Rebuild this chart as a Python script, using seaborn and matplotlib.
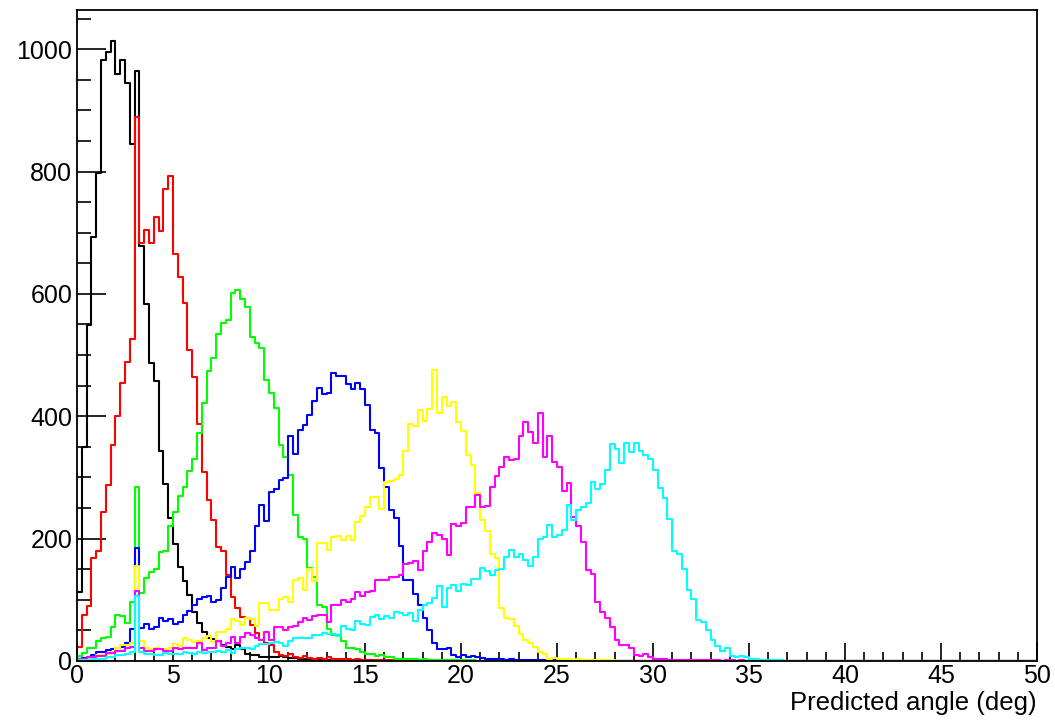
import matplotlib

matplotlib.use("Agg")

import matplotlib.pyplot as plt
import numpy as np
import pandas as pd
import seaborn as sns
from matplotlib.ticker import MultipleLocator


N_BINS = 200
X_RANGE = (0.0, 50.0)
Y_MAX = 1064

# bin contents (0.25 deg bins starting at 0), trailing bins are empty
black_counts = [
    113, 350, 549, 693, 797, 982, 995, 1013, 960, 983, 945, 845, 964, 678, 584, 487,
    457, 343, 290, 233, 192, 154, 131, 108, 80, 62, 47, 38, 36, 32, 26, 23,
    20, 26, 20, 12, 10, 10, 7, 7, 7, 6, 8, 7, 5, 5, 4, 3,
    3, 2, 2, 1, 1,
]
red_counts = [
    23, 76, 90, 169, 179, 244, 288, 353, 401, 455, 489, 527, 889, 683, 704, 683,
    726, 703, 772, 793, 665, 627, 585, 508, 464, 388, 309, 263, 230, 186, 179, 140,
    105, 86, 72, 71, 59, 45, 34, 29, 26, 15, 10, 8, 12, 7, 5, 8,
    5, 4, 5, 3, 6, 4, 3, 4, 3, 2, 3, 2, 2, 1, 2, 1,
    1, 1, 1,
]
green_counts = [
    8, 13, 21, 21, 33, 37, 40, 56, 75, 74, 62, 97, 284, 111, 135, 145,
    150, 178, 180, 221, 243, 270, 285, 311, 330, 373, 422, 474, 495, 535, 552, 558,
    602, 606, 592, 578, 530, 520, 511, 460, 438, 413, 353, 334, 304, 239, 202, 199,
    152, 138, 92, 88, 52, 43, 42, 32, 22, 22, 19, 14, 12, 11, 8, 9,
    7, 6, 4, 3, 3, 3, 4, 2, 3, 2, 2, 1, 2, 1, 1, 2,
    1, 1, 1,
]
blue_counts = [
    3, 5, 6, 9, 14, 15, 18, 20, 21, 23, 30, 52, 185, 54, 60, 52,
    55, 70, 65, 68, 60, 64, 75, 82, 92, 102, 104, 106, 96, 100, 120, 138,
    153, 135, 151, 161, 179, 221, 255, 229, 276, 281, 296, 299, 367, 338, 378, 385,
    402, 425, 446, 436, 438, 471, 466, 465, 453, 444, 455, 444, 418, 377, 373, 315,
    285, 247, 233, 188, 132, 133, 110, 92, 70, 51, 30, 20, 19, 22, 10, 7,
    9, 7, 8, 6, 5, 4, 3, 3, 3, 2, 3, 2, 2, 1, 2, 1,
    1, 2, 1, 1, 1,
]
yellow_counts = [
    2, 3, 3, 6, 10, 10, 12, 15, 22, 26, 26, 29, 155, 33, 22, 19,
    22, 20, 19, 22, 28, 24, 37, 34, 31, 33, 37, 41, 31, 48, 48, 52,
    68, 65, 59, 71, 68, 57, 94, 95, 83, 84, 101, 105, 97, 132, 135, 116,
    151, 131, 193, 193, 181, 203, 204, 198, 204, 198, 228, 237, 252, 268, 268, 248,
    292, 295, 297, 304, 344, 387, 384, 411, 392, 412, 475, 405, 431, 416, 424, 391,
    376, 337, 320, 275, 230, 213, 175, 168, 86, 70, 68, 57, 44, 34, 29, 23,
    14, 11, 4, 5, 4, 3, 3, 2, 3, 2, 2, 1, 2, 1, 1, 1,
]
magenta_counts = [
    3, 3, 6, 6, 8, 8, 13, 13, 17, 17, 22, 23, 115, 22, 17, 17,
    19, 19, 17, 17, 21, 19, 22, 21, 22, 30, 18, 22, 22, 32, 25, 30,
    39, 29, 39, 46, 42, 38, 34, 48, 34, 55, 55, 50, 55, 57, 63, 70,
    67, 74, 75, 76, 63, 92, 92, 100, 97, 102, 113, 106, 113, 115, 132, 132,
    132, 137, 138, 140, 159, 160, 163, 149, 180, 195, 210, 206, 200, 173, 224, 221,
    225, 252, 252, 271, 252, 253, 285, 303, 317, 334, 328, 330, 368, 391, 375, 357,
    405, 334, 368, 326, 317, 278, 291, 236, 221, 195, 148, 143, 96, 80, 71, 56,
    34, 26, 26, 22, 10, 8, 12, 6, 4, 3, 3, 2, 2, 2, 2, 1,
    2, 1, 1, 1, 1, 1, 0, 1, 1, 0, 1, 0, 1,
]
cyan_counts = [
    1, 2, 2, 3, 3, 3, 6, 7, 10, 10, 11, 15, 106, 14, 11, 11,
    10, 10, 13, 11, 12, 12, 14, 13, 12, 14, 13, 15, 15, 16, 15, 18,
    13, 19, 21, 22, 20, 25, 27, 28, 30, 31, 30, 24, 33, 37, 37, 38,
    38, 42, 43, 45, 44, 44, 41, 58, 52, 51, 66, 60, 59, 72, 75, 69,
    73, 70, 80, 78, 75, 78, 65, 84, 92, 95, 103, 123, 89, 120, 125, 115,
    126, 125, 134, 134, 152, 147, 140, 149, 150, 170, 182, 170, 175, 165, 155, 170,
    200, 202, 222, 203, 206, 214, 255, 230, 246, 252, 259, 293, 281, 289, 312, 355,
    347, 323, 356, 342, 356, 344, 337, 330, 312, 283, 267, 232, 179, 175, 151, 116,
    102, 67, 64, 50, 34, 25, 17, 21, 8, 6, 8, 6, 4, 3, 2, 2,
    1, 1, 1,
]

# drawing order matters: later series sit on top (cyan ends up on the baseline)
SERIES = [
    ("black", "#000000", black_counts),
    ("red", "#ff0000", red_counts),
    ("green", "#00ff00", green_counts),
    ("blue", "#0000ff", blue_counts),
    ("yellow", "#ffff00", yellow_counts),
    ("magenta", "#ff00ff", magenta_counts),
    ("cyan", "#00ffff", cyan_counts),
]


def build_frame() -> pd.DataFrame:
    edges = np.linspace(X_RANGE[0], X_RANGE[1], N_BINS + 1)
    centers = 0.5 * (edges[:-1] + edges[1:])
    frames = []
    for name, _, counts in SERIES:
        values = np.zeros(N_BINS)
        values[: len(counts)] = counts
        frames.append(pd.DataFrame({"angle": centers, "count": values, "sample": name}))
    return pd.concat(frames, ignore_index=True)


def main() -> None:
    sns.set_theme(style="ticks")
    plt.rcParams["font.family"] = ["Liberation Sans", "DejaVu Sans"]
    plt.rcParams.update({
        "text.color": "black",
        "axes.labelcolor": "black",
        "xtick.color": "black",
        "ytick.color": "black",
    })

    df = build_frame()

    fig = plt.figure(figsize=(10.55, 7.22), dpi=100)
    ax = fig.add_axes([77 / 1055, 61 / 722, 960 / 1055, 651 / 722])

    for name, color, _ in SERIES:
        sns.histplot(
            data=df[df["sample"] == name],
            x="angle",
            weights="count",
            bins=N_BINS,
            binrange=X_RANGE,
            element="step",
            fill=False,
            color=color,
            linewidth=1.5,
            ax=ax,
        )

    ax.set_xlim(*X_RANGE)
    ax.set_ylim(0, Y_MAX)
    ax.set_ylabel("")
    ax.set_xlabel("Predicted angle (deg)", loc="right", fontsize=18.5, labelpad=2)

    ax.xaxis.set_major_locator(MultipleLocator(5))
    ax.xaxis.set_minor_locator(MultipleLocator(1))
    ax.yaxis.set_major_locator(MultipleLocator(200))
    ax.yaxis.set_minor_locator(MultipleLocator(50))

    ax.tick_params(axis="both", which="both", direction="in", top=False, right=False,
                   width=1.2, color="black", labelcolor="black", labelsize=18)
    ax.tick_params(axis="x", which="major", length=13, pad=2.5)
    ax.tick_params(axis="x", which="minor", length=6.5)
    ax.tick_params(axis="y", which="major", length=21, pad=3.5)
    ax.tick_params(axis="y", which="minor", length=10)

    for spine in ax.spines.values():
        spine.set_visible(True)
        spine.set_linewidth(1.3)
        spine.set_color("black")

    fig.savefig("out.png", dpi=100)
    plt.close(fig)


if __name__ == "__main__":
    main()
